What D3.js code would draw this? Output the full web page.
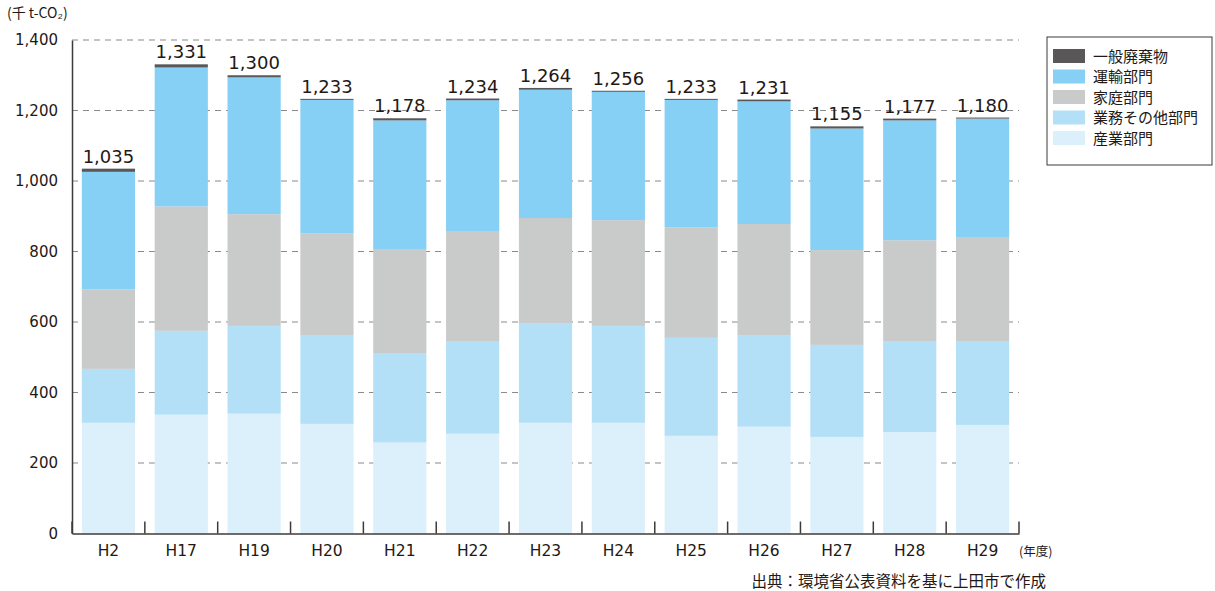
<!DOCTYPE html>
<html lang="ja">
<head>
<meta charset="UTF-8">
<title>CO2排出量の推移</title>
<script src="https://cdn.jsdelivr.net/npm/d3@7"></script>
<style>
  body { margin: 0; background: #fff; }
  svg text { font-family: "DejaVu Sans", "Noto Sans CJK JP", sans-serif; fill: #231815; }
  svg text.jp { font-family: "Noto Sans CJK JP", sans-serif; }
</style>
</head>
<body>
<svg id="chart" width="1215" height="591"></svg>
<script>
// 年度
var years = ["H2", "H17", "H19", "H20", "H21", "H22", "H23", "H24", "H25", "H26", "H27", "H28", "H29"];
// 部門別排出量 (千 t-CO2) - 下から積み上げ
var sangyo = [314, 337, 340, 311, 258, 283, 314, 314, 277, 303, 274, 288, 308];
var gyomu  = [153, 238, 249, 252, 254, 263, 283, 275, 278, 260, 261, 258, 238];
var katei  = [226, 353, 317, 289, 295, 312, 298, 300, 314, 315, 269, 286, 295];
var unyu   = [333, 394, 388, 378, 365, 371, 364, 364, 361, 348, 345, 340, 336];
var haiki  = [9, 9, 6, 3, 6, 5, 5, 3, 3, 5, 6, 5, 3];
// 合計ラベル
var totals = [1035, 1331, 1300, 1233, 1178, 1234, 1264, 1256, 1233, 1231, 1155, 1177, 1180];
var yTicks = [0, 200, 400, 600, 800, 1000, 1200, 1400];

var keys = ["sangyo", "gyomu", "katei", "unyu", "haiki"];
var names = { haiki: "一般廃棄物", unyu: "運輸部門", katei: "家庭部門", gyomu: "業務その他部門", sangyo: "産業部門" };
var colors = { haiki: "#595757", unyu: "#86cff5", katei: "#c9caca", gyomu: "#b3e0f6", sangyo: "#dcf0fb" };

var rows = years.map(function (y, i) {
    return { year: y, sangyo: sangyo[i], gyomu: gyomu[i], katei: katei[i], unyu: unyu[i], haiki: haiki[i], total: totals[i] };
});

var pLeft = 72, pRight = 1019, pTop = 40, pBottom = 533.5;
var svg = d3.select("#chart");

var x = d3.scaleBand().domain(years).range([pLeft, pRight]).paddingInner(0.27).paddingOuter(0.135);
var y = d3.scaleLinear().domain([0, 1400]).range([pBottom, pTop]);

// gridlines
svg.append("g").selectAll("line").data(yTicks.filter(function (d) { return d > 0; }))
    .enter().append("line")
    .attr("x1", pLeft).attr("x2", pRight)
    .attr("y1", function (d) { return y(d); }).attr("y2", function (d) { return y(d); })
    .attr("stroke", "#8a8a8a").attr("stroke-width", 1.2).attr("stroke-dasharray", "6,5");

// stacked bars
var series = d3.stack().keys(keys)(rows);
svg.append("g").selectAll("g").data(series).enter().append("g")
    .attr("fill", function (d) { return colors[d.key]; })
    .selectAll("rect").data(function (d) { return d; })
    .enter().append("rect")
    .attr("x", function (d) { return x(d.data.year); })
    .attr("width", x.bandwidth())
    .attr("y", function (d) { return y(d[1]); })
    .attr("height", function (d) { return y(d[0]) - y(d[1]); });

// total labels
svg.append("g").selectAll("text").data(rows).enter().append("text")
    .attr("x", function (d) { return x(d.year) + x.bandwidth() / 2; })
    .attr("y", function (d) { return y(d.total) - 6; })
    .attr("text-anchor", "middle")
    .attr("font-size", 18)
    .text(function (d) { return d3.format(",")(d.total); });

// y axis
var yAxis = svg.append("g").attr("transform", "translate(" + pLeft + ",0)")
    .call(d3.axisLeft(y).tickValues(yTicks).tickFormat(d3.format(",")).tickSize(0).tickPadding(14));
yAxis.select(".domain").attr("stroke", "#3e3a39").attr("stroke-width", 1.5);
yAxis.selectAll("text").attr("font-size", 15).attr("fill", "#231815");

// x axis
var xAxis = svg.append("g").attr("transform", "translate(0," + pBottom + ")")
    .call(d3.axisBottom(x).tickSize(0).tickPadding(11));
xAxis.select(".domain").attr("stroke", "#3e3a39").attr("stroke-width", 1.5);
xAxis.selectAll("text").attr("font-size", 15.5).attr("fill", "#231815");

// x ticks at band boundaries (pointing up)
var step = x.step();
var bounds = years.map(function (d) { return x(d) - step * x.paddingInner() / 2; });
bounds.push(pRight);
svg.append("g").selectAll("line").data(bounds).enter().append("line")
    .attr("x1", function (d) { return d; }).attr("x2", function (d) { return d; })
    .attr("y1", pBottom).attr("y2", pBottom - 12)
    .attr("stroke", "#3e3a39").attr("stroke-width", 1.5);

// unit labels
svg.append("text").attr("class", "jp").attr("x", 7).attr("y", 18).attr("font-size", 14).text("(千 t-CO₂)");
svg.append("text").attr("class", "jp").attr("x", 1019).attr("y", 556).attr("font-size", 12.5).text("(年度)");
svg.append("text").attr("class", "jp").attr("x", 1046).attr("y", 587).attr("font-size", 15.5).attr("text-anchor", "end")
    .text("出典：環境省公表資料を基に上田市で作成");

// legend
var legend = svg.append("g");
legend.append("rect").attr("x", 1047).attr("y", 37).attr("width", 165).attr("height", 128)
    .attr("fill", "#fff").attr("stroke", "#3e3a39").attr("stroke-width", 1);
var legendKeys = ["haiki", "unyu", "katei", "gyomu", "sangyo"];
var item = legend.selectAll("g").data(legendKeys).enter().append("g")
    .attr("transform", function (d, i) { return "translate(1053," + (49 + i * 20.5) + ")"; });
item.append("rect").attr("width", 32).attr("height", 14).attr("fill", function (d) { return colors[d]; });
item.append("text").attr("class", "jp").attr("x", 40).attr("y", 12.5).attr("font-size", 15).text(function (d) { return names[d]; });
</script>
</body>
</html>
